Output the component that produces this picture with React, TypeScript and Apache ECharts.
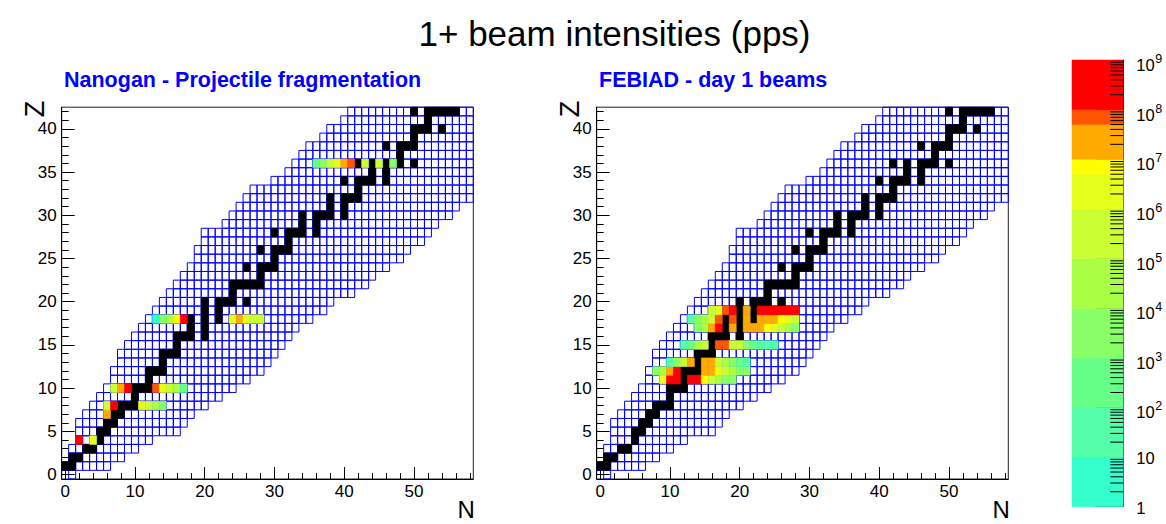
import React, { useEffect, useRef } from 'react';
import * as echarts from 'echarts';

const FONT = "'Liberation Sans', Arial, Helvetica, sans-serif";

// Known nuclides: for each Z (index) the lowest and highest N drawn
const N_MIN = [1, 0, 1, 1, 2, 2, 2, 3, 4, 5, 6, 7, 7, 8, 8, 9, 10, 11, 12, 13, 14, 15, 16, 17, 18, 19, 19, 20, 20, 23, 24, 25, 26, 27, 30, 32, 33, 34, 35, 37, 38, 40, 41];
const N_MAX = [1, 6, 8, 10, 12, 16, 17, 18, 20, 22, 24, 26, 28, 29, 30, 31, 32, 33, 35, 37, 38, 41, 43, 44, 46, 48, 49, 51, 52, 53, 55, 56, 58, 58, 58, 58, 58, 58, 58, 58, 58, 58, 58];

// Stable nuclides: N values for each Z (index)
const STABLE: number[][] = [
  [], [0, 1], [1, 2], [3, 4], [5], [5, 6], [6, 7], [7, 8], [8, 9, 10], [10],
  [10, 11, 12], [12], [12, 13, 14], [14], [14, 15, 16], [16], [16, 17, 18, 20], [18, 20], [18, 20, 22], [20, 22],
  [20, 22, 23, 24, 26], [24], [24, 25, 26, 27, 28], [28], [26, 28, 29, 30], [30], [28, 30, 31, 32], [32], [30, 32, 33, 34, 36], [34, 36],
  [34, 36, 37, 38, 40], [38, 40], [38, 40, 41, 42], [42], [40, 42, 43, 44, 46], [44, 46], [42, 44, 46, 47, 48, 50], [48], [46, 48, 49, 50], [50],
  [50, 51, 52, 54], [52], [50, 52, 53, 54, 55, 56],
];

// Beam intensities [N, Z, pps]
const NANOGAN: number[][] = [
  [2, 4, 2e8], [4, 4, 2e6],
  [6, 7, 2e7],
  [6, 8, 5e5], [7, 8, 2e8], [11, 8, 2e6], [12, 8, 5e5], [13, 8, 5e4], [14, 8, 5e3],
  [7, 10, 5e5], [8, 10, 2e7], [9, 10, 2e8], [13, 10, 7e7], [14, 10, 2e6], [15, 10, 5e5], [16, 10, 5e4], [17, 10, 500],
  [13, 18, 5], [14, 18, 5e3], [15, 18, 5e4], [16, 18, 7e6], [17, 18, 2e8], [24, 18, 2e6], [25, 18, 2e7], [26, 18, 2e6], [27, 18, 5e5], [28, 18, 5e5],
  [36, 36, 500], [37, 36, 5e3], [38, 36, 5e5], [39, 36, 2e6], [40, 36, 2e7], [41, 36, 7e7], [43, 36, 5e5], [45, 36, 5e5], [47, 36, 5e3],
];

const FEBIAD: number[][] = [
  [9, 11, 2e6], [10, 11, 2e8], [11, 11, 2e8], [13, 11, 2e8], [14, 11, 2e8], [15, 11, 7e6], [16, 11, 5e5], [17, 11, 5e4], [18, 11, 5e3], [19, 11, 5e3],
  [8, 12, 5e3], [9, 12, 5e4], [10, 12, 2e7], [11, 12, 2e8], [15, 12, 2e7], [16, 12, 2e7], [17, 12, 2e6], [18, 12, 5e5], [19, 12, 5e4], [20, 12, 5e3], [21, 12, 5e3],
  [10, 13, 50], [11, 13, 5e3], [12, 13, 5e5], [13, 13, 2e7], [15, 13, 2e7], [16, 13, 2e7], [17, 13, 5e5], [18, 13, 5e4], [19, 13, 5e3], [20, 13, 500], [21, 13, 50],
  [12, 15, 50], [13, 15, 500], [14, 15, 5e4], [15, 15, 5e5], [17, 15, 7e7], [18, 15, 7e7], [19, 15, 5e5], [20, 15, 5e5], [21, 15, 5e3], [22, 15, 500], [23, 15, 50], [24, 15, 50], [25, 15, 50],
  [14, 17, 5e3], [15, 17, 5e4], [16, 17, 2e7], [17, 17, 2e8], [19, 17, 2e7], [21, 17, 2e7], [22, 17, 2e7], [23, 17, 2e7], [24, 17, 7e6], [25, 17, 2e6], [26, 17, 5e5], [27, 17, 5e4], [28, 17, 5e3],
  [13, 18, 50], [14, 18, 5e3], [15, 18, 5e4], [16, 18, 5e5], [17, 18, 7e7], [19, 18, 7e7], [21, 18, 2e7], [23, 18, 2e7], [24, 18, 2e7], [25, 18, 2e7], [26, 18, 7e6], [27, 18, 2e6], [28, 18, 5e5],
  [16, 19, 5e5], [17, 19, 2e6], [18, 19, 7e7], [19, 19, 2e8], [21, 19, 2e7], [23, 19, 2e8], [24, 19, 2e8], [25, 19, 2e8], [26, 19, 2e8], [27, 19, 2e8], [28, 19, 2e8],
];

// Colour contours (pps) and their colours
const LEVELS = [1, 10, 100, 1e3, 1e4, 1e5, 1e6, 5e6, 1e7, 5e7, 1e8, 1e9];
const LEVEL_COLORS = ['#33ffcc', '#55ffaa', '#66ff88', '#88ff66', '#aaff44', '#ccff33', '#e5ff1a', '#ffff00', '#ffaa00', '#ff5500', '#ff0000'];

const X_MAJOR = [0, 10, 20, 30, 40, 50];
const X_MINOR = Array.from({ length: 30 }, (_, i) => i * 2);
const Y_MAJOR = [0, 5, 10, 15, 20, 25, 30, 35, 40];
const Y_MINOR = Array.from({ length: 43 }, (_, i) => i);
const CB_DECADES = [0, 1, 2, 3, 4, 5, 6, 7, 8, 9];
const CB_MINOR_MULT = [2, 3, 4, 5, 6, 7, 8, 9];

const TITLE = '1+ beam intensities (pps)';
const PANEL_TITLES = ['Nanogan - Projectile fragmentation', 'FEBIAD - day 1 beams'];

function colorOf(v: number) {
  for (let i = 0; i < LEVEL_COLORS.length; i++) {
    if (v < LEVELS[i + 1]) return LEVEL_COLORS[i];
  }
  return LEVEL_COLORS[LEVEL_COLORS.length - 1];
}

function cellShape(api: any) {
  const n = api.value(0);
  const z = api.value(1);
  const p0 = api.coord([n - 0.5, z + 0.5]);
  const p1 = api.coord([n + 0.5, z - 0.5]);
  return { x: p0[0], y: p0[1], width: p1[0] - p0[0], height: p1[1] - p0[1] };
}

const knownCells: number[][] = [];
N_MIN.forEach((lo, z) => {
  for (let n = lo; n <= N_MAX[z]; n++) knownCells.push([n, z]);
});
const stableCells: number[][] = [];
STABLE.forEach((ns, z) => ns.forEach((n) => stableCells.push([n, z])));

const GRID_W = 411.6;
const GRID_H = 371.8;
const GRID_TOP = 107.2;
const PANEL_LEFT = [61.7, 596.7];

export default function App() {
  const ref = useRef<HTMLDivElement>(null);

  useEffect(() => {
    if (!ref.current) return;
    const chart = echarts.init(ref.current, null, { renderer: 'svg' });

    const xAxes: any[] = [];
    const yAxes: any[] = [];
    const series: any[] = [];
    const graphics: any[] = [];

    PANEL_LEFT.forEach((left, g) => {
      xAxes.push({
        gridIndex: g, type: 'value', min: -0.5, max: 58.5, position: 'bottom',
        axisLine: { show: true, onZero: false, lineStyle: { color: '#000', width: 1 } },
        axisTick: { show: true, inside: true, length: 12, customValues: X_MAJOR, lineStyle: { color: '#000' } },
        axisLabel: { show: true, customValues: X_MAJOR, margin: 4, fontSize: 17, fontFamily: FONT, color: '#000' },
        splitLine: { show: false },
      });
      xAxes.push({
        gridIndex: g, type: 'value', min: -0.5, max: 58.5, position: 'bottom',
        axisLine: { show: false, onZero: false },
        axisTick: { show: true, inside: true, length: 6, customValues: X_MINOR, lineStyle: { color: '#000' } },
        axisLabel: { show: false },
        splitLine: { show: false },
      });
      yAxes.push({
        gridIndex: g, type: 'value', min: -0.5, max: 42.5, position: 'left',
        axisLine: { show: true, onZero: false, lineStyle: { color: '#000', width: 1 } },
        axisTick: { show: true, inside: true, length: 13, customValues: Y_MAJOR, lineStyle: { color: '#000' } },
        axisLabel: { show: true, customValues: Y_MAJOR, margin: 5, fontSize: 17, fontFamily: FONT, color: '#000' },
        splitLine: { show: false },
      });
      yAxes.push({
        gridIndex: g, type: 'value', min: -0.5, max: 42.5, position: 'left',
        axisLine: { show: false, onZero: false },
        axisTick: { show: true, inside: true, length: 7, customValues: Y_MINOR, lineStyle: { color: '#000' } },
        axisLabel: { show: false },
        splitLine: { show: false },
      });
      const xi = g * 2;
      const yi = g * 2;
      series.push({
        type: 'custom', xAxisIndex: xi, yAxisIndex: yi, data: knownCells, silent: true,
        renderItem: (_p: any, api: any) => ({
          type: 'rect', shape: cellShape(api),
          style: { fill: 'none', stroke: '#0000ff', lineWidth: 1 },
        }),
      });
      series.push({
        type: 'custom', xAxisIndex: xi, yAxisIndex: yi, data: stableCells, silent: true,
        renderItem: (_p: any, api: any) => ({
          type: 'rect', shape: cellShape(api),
          style: { fill: '#000', stroke: '#000', lineWidth: 0.6 },
        }),
      });
      series.push({
        type: 'custom', xAxisIndex: xi, yAxisIndex: yi, data: g === 0 ? NANOGAN : FEBIAD, silent: true,
        renderItem: (_p: any, api: any) => {
          const c = colorOf(api.value(2));
          return { type: 'rect', shape: cellShape(api), style: { fill: c, stroke: c, lineWidth: 0.6 } };
        },
      });

      graphics.push({
        type: 'text', x: left + 2.3, y: 79.5,
        style: {
          text: PANEL_TITLES[g], fontSize: 21.5, fontWeight: 'bold', fontFamily: FONT, fill: '#0000ff',
          align: 'left', verticalAlign: 'middle', textAlign: 'left', textVerticalAlign: 'middle',
        },
      });
      graphics.push({
        type: 'text', x: left - 26.5, y: 109, rotation: Math.PI / 2,
        style: {
          text: 'Z', fontSize: 27, lineHeight: 22, fontFamily: FONT, fill: '#000',
          align: 'center', verticalAlign: 'middle', textAlign: 'center', textVerticalAlign: 'middle',
        },
      });
      graphics.push({
        type: 'text', x: left + GRID_W + 1.5, y: 509.5,
        style: {
          text: 'N', fontSize: 24, lineHeight: 20, fontFamily: FONT, fill: '#000',
          align: 'right', verticalAlign: 'middle', textAlign: 'right', textVerticalAlign: 'middle',
        },
      });
    });

    // colour bar axes
    xAxes.push({ gridIndex: 2, type: 'value', min: 0, max: 1, show: false });
    yAxes.push({
      gridIndex: 2, type: 'value', min: 0, max: 9, interval: 1, position: 'right',
      axisLine: { show: true, onZero: false, lineStyle: { color: '#000', width: 1 } },
      axisTick: { show: true, inside: true, length: 28, lineStyle: { color: '#000' } },
      axisLabel: { show: false },
      splitLine: { show: false },
    });

    const bandData = LEVEL_COLORS.map((_c, i) => [Math.log10(LEVELS[i]), Math.log10(LEVELS[i + 1]), i]);
    series.push({
      type: 'custom', xAxisIndex: 4, yAxisIndex: 4, data: bandData, silent: true, z: 1,
      renderItem: (_p: any, api: any) => {
        const lo = api.value(0);
        const hi = api.value(1);
        const c = LEVEL_COLORS[api.value(2)];
        const p0 = api.coord([0, hi]);
        const p1 = api.coord([1, lo]);
        return {
          type: 'rect',
          shape: { x: p0[0], y: p0[1], width: p1[0] - p0[0], height: p1[1] - p0[1] },
          style: { fill: c, stroke: c, lineWidth: 0.5 },
        };
      },
    });
    const minorData: number[][] = [];
    CB_DECADES.slice(0, -1).forEach((d) => CB_MINOR_MULT.forEach((k) => minorData.push([1, d + Math.log10(k)])));
    series.push({
      type: 'custom', xAxisIndex: 4, yAxisIndex: 4, data: minorData, silent: true, z: 3,
      renderItem: (_p: any, api: any) => {
        const p = api.coord([1, api.value(1)]);
        return {
          type: 'line',
          shape: { x1: p[0] - 13, y1: p[1], x2: p[0], y2: p[1] },
          style: { stroke: '#000', lineWidth: 1 },
        };
      },
    });
    series.push({
      type: 'custom', xAxisIndex: 4, yAxisIndex: 4, data: CB_DECADES.map((d) => [1, d]), silent: true, clip: false, z: 3,
      renderItem: (_p: any, api: any) => {
        const d = api.value(1);
        const p = api.coord([1, d]);
        const x = p[0] + 13;
        const base = {
          fontSize: 16.5, fontFamily: FONT, fill: '#000',
          align: 'left', verticalAlign: 'middle', textAlign: 'left', textVerticalAlign: 'middle',
        };
        if (d < 2) {
          return { type: 'text', x, y: p[1] + 1, style: { ...base, text: d === 0 ? '1' : '10' } };
        }
        return {
          type: 'group',
          children: [
            { type: 'text', x, y: p[1] + 5, style: { ...base, text: '10' } },
            { type: 'text', x: x + 19, y: p[1] - 1, style: { ...base, fontSize: 12.5, text: String(d) } },
          ],
        };
      },
    });

    graphics.push({
      type: 'text', x: 614.5, y: 33,
      style: {
        text: TITLE, fontSize: 35, fontFamily: FONT, fill: '#000',
        align: 'center', verticalAlign: 'middle', textAlign: 'center', textVerticalAlign: 'middle',
      },
    });

    chart.setOption({
      animation: false,
      backgroundColor: '#ffffff',
      grid: [
        { left: PANEL_LEFT[0], top: GRID_TOP, width: GRID_W, height: GRID_H, show: true, borderColor: '#222', borderWidth: 1, backgroundColor: 'transparent' },
        { left: PANEL_LEFT[1], top: GRID_TOP, width: GRID_W, height: GRID_H, show: true, borderColor: '#222', borderWidth: 1, backgroundColor: 'transparent' },
        { left: 1072, top: 60, width: 51.3, height: 446.7 },
      ],
      xAxis: xAxes,
      yAxis: yAxes,
      series,
      graphic: graphics,
    });

    return () => chart.dispose();
  }, []);

  return <div ref={ref} style={{ position: 'fixed', left: 0, top: 0, width: 1166, height: 524, background: '#fff' }} />;
}
